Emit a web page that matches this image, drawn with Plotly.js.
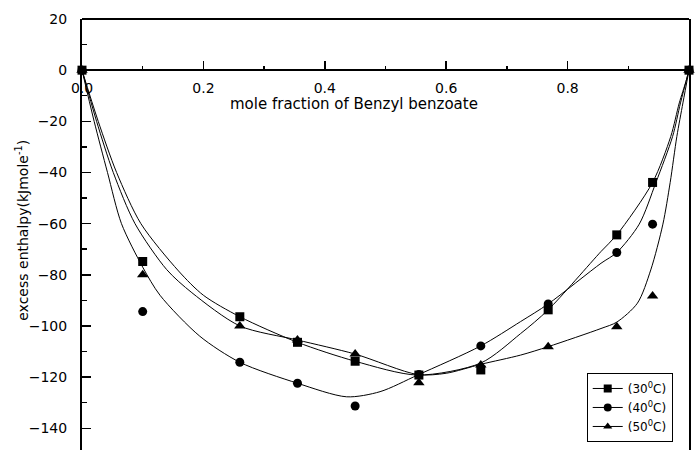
<!DOCTYPE html>
<html>
<head>
<meta charset="utf-8">
<script src="https://cdn.plot.ly/plotly-3.0.1.min.js"></script>
<style>html,body{margin:0;padding:0;background:#fff}#chart{width:699px;height:450px}</style>
</head>
<body>
<div id="chart"></div>
<script>
// measured points (mole fraction, excess enthalpy)
const xMeasured = [0, 0.1, 0.26, 0.355, 0.45, 0.555, 0.657, 0.768, 0.881, 0.94, 1.0];
const h30 = [0, -74.8, -96.4, -106.4, -113.8, -119.2, -117.2, -93.7, -64.4, -43.9, 0];
const h40 = [0, -94.4, -114.2, -122.4, -131.3, -119.0, -107.8, -91.4, -71.3, -60.2, 0];
const h50 = [0, -80.0, -100.0, -105.5, -111.0, -122.2, -115.3, -108.1, -100.3, -88.3, 0];

// fitted curves
const fitX30 = [0, 0.0267, 0.057, 0.097, 0.159, 0.2, 0.26, 0.355, 0.45, 0.553, 0.657, 0.7225, 0.768, 0.855, 0.881, 0.94, 0.97, 0.984, 0.995, 1.0];
const fitY30 = [0, -20, -40, -60, -78.5, -88, -96.4, -106.4, -113.8, -119.2, -114.5, -103, -93.7, -70.9, -64.4, -43.9, -25.9, -12.8, -4.4, 0];
const fitX40 = [0, 0.020, 0.042, 0.065, 0.1, 0.1285, 0.194, 0.26, 0.355, 0.436, 0.491, 0.553, 0.657, 0.7225, 0.768, 0.855, 0.881, 0.918, 0.9455, 0.973, 0.986, 1.0];
const fitY40 = [0, -20, -40, -60, -77, -88, -104, -114.2, -122.4, -127.7, -125.7, -119.2, -107.8, -98.3, -91.4, -75.5, -71.3, -60.2, -43.9, -25.9, -12.8, 0];
const fitX50 = [0, 0.024, 0.0515, 0.0873, 0.1396, 0.181, 0.26, 0.355, 0.45, 0.553, 0.6, 0.657, 0.7225, 0.768, 0.855, 0.881, 0.915, 0.937, 0.957, 0.969, 0.98, 0.99, 1.0];
const fitY50 = [0, -20, -40, -60, -78, -87, -100, -105.5, -111, -119, -118.5, -115, -111.4, -108.1, -101, -98.5, -91.1, -78.1, -60.2, -43.9, -25.9, -12.8, 0];

const seriesNames = ['(30<sup>0</sup>C)', '(40<sup>0</sup>C)', '(50<sup>0</sup>C)'];
const symbols = ['square', 'circle', 'triangle-up'];
const sizes = [9, 9, 10];

const measured = [h30, h40, h50];
const fits = [[fitX30, fitY30], [fitX40, fitY40], [fitX50, fitY50]];

const traces = [];
for (let i = 0; i < 3; i++) {
  traces.push({
    x: fits[i][0], y: fits[i][1], mode: 'lines', type: 'scatter',
    line: {color: '#000', width: 1, shape: 'spline', smoothing: 0.8},
    showlegend: false, hoverinfo: 'skip'
  });
  traces.push({
    x: xMeasured, y: measured[i], mode: 'markers', type: 'scatter',
    marker: {symbol: symbols[i], size: sizes[i], color: '#000'},
    cliponaxis: false, showlegend: false
  });
}
for (let i = 0; i < 3; i++) {
  traces.push({
    x: [null], y: [null], mode: 'lines+markers', type: 'scatter', name: seriesNames[i],
    line: {color: '#000', width: 1},
    marker: {symbol: symbols[i], size: 8, color: '#000'}
  });
}

const font = 'DejaVu Sans, Liberation Sans, Arial, sans-serif';
const layout = {
  width: 699, height: 450,
  margin: {l: 82, r: 10, t: 19, b: 0},
  paper_bgcolor: '#fff', plot_bgcolor: '#fff',
  font: {family: font, color: '#000', size: 14},
  showlegend: true,
  legend: {
    x: 0.8315, y: 0.1787, xanchor: 'left', yanchor: 'top',
    bordercolor: '#000', borderwidth: 1, bgcolor: '#fff',
    font: {family: font, size: 12, color: '#000'},
    itemwidth: 30, tracegroupgap: 0
  },
  xaxis: {
    range: [0, 1], anchor: 'free', position: 0.8813,
    showline: true, linecolor: '#000', linewidth: 2,
    showgrid: false, zeroline: false,
    ticks: 'inside', ticklen: 8, tickwidth: 1.5, tickcolor: '#000',
    tickvals: [0, 0.2, 0.4, 0.6, 0.8, 1.0],
    ticktext: ['0.0', '0.2', '0.4', '0.6', '0.8', '1.0'],
    ticklabelstandoff: 5,
    minor: {tickvals: [0.1, 0.3, 0.5, 0.7, 0.9], ticks: 'inside', ticklen: 3, tickcolor: '#000', tickwidth: 1.5},
    tickfont: {family: font, size: 14, color: '#000'}
  },
  yaxis: {
    range: [-148.5, 20],
    showline: true, linecolor: '#000', linewidth: 2, mirror: true,
    showgrid: false, zeroline: false,
    ticks: 'inside', ticklen: 9, tickwidth: 1.5, tickcolor: '#000',
    tickvals: [20, 0, -20, -40, -60, -80, -100, -120, -140],
    ticklabelstandoff: 10,
    minor: {dtick: 10, ticks: 'inside', ticklen: 5, tickcolor: '#000', tickwidth: 1.5},
    tickfont: {family: font, size: 14, color: '#000'}
  },
  shapes: [
    {type: 'line', xref: 'paper', yref: 'paper', x0: 0, x1: 1, y0: 1, y1: 1, line: {color: '#000', width: 2}}
  ],
  annotations: [
    {text: 'mole fraction of Benzyl benzoate', xref: 'paper', yref: 'paper', x: 0.4473, y: 0.803,
     xanchor: 'center', yanchor: 'middle', showarrow: false, font: {family: font, size: 15, color: '#000'}},
    {text: 'excess enthalpy(kJmole<sup>-1</sup>)', xref: 'paper', yref: 'paper', x: -0.0993, y: 0.5104,
     xanchor: 'center', yanchor: 'middle', textangle: -90, showarrow: false, font: {family: font, size: 14, color: '#000'}}
  ]
};

Plotly.newPlot('chart', traces, layout, {displayModeBar: false, staticPlot: true});
</script>
</body>
</html>
